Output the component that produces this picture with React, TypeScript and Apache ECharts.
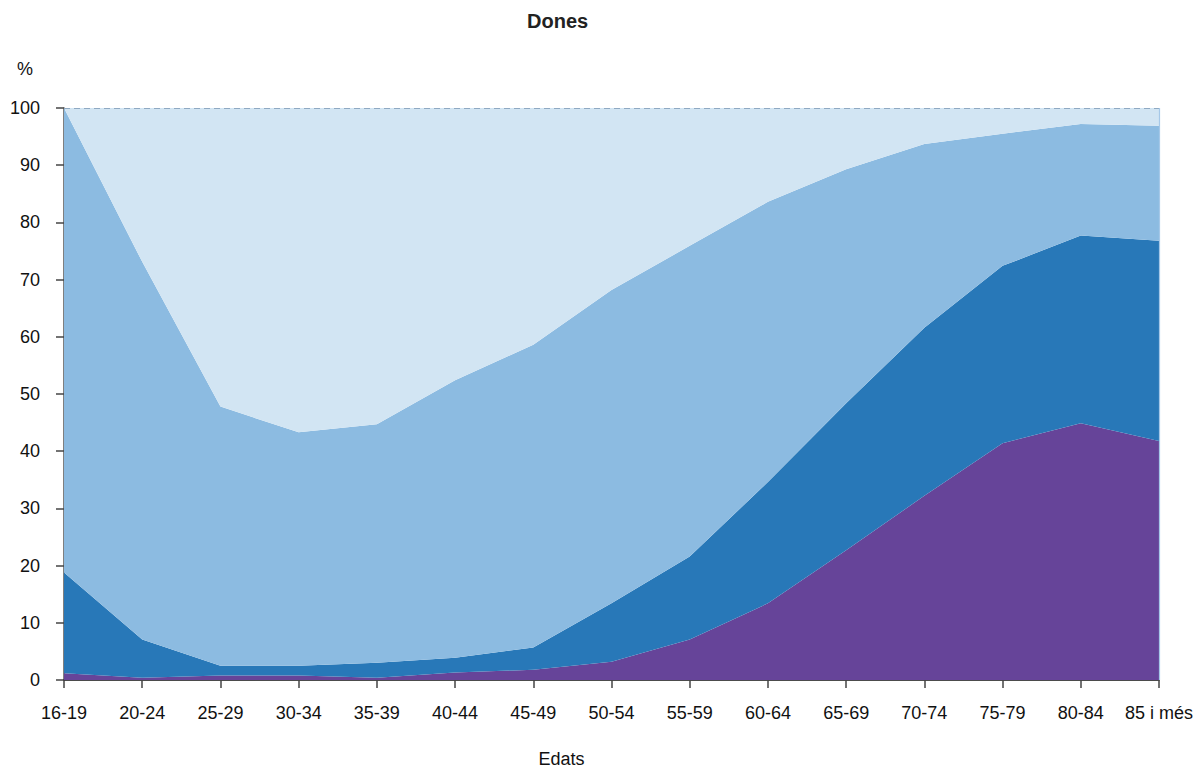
import React, { useEffect, useRef } from "react";
import * as echarts from "echarts";

const categories = ["16-19", "20-24", "25-29", "30-34", "35-39", "40-44", "45-49", "50-54", "55-59", "60-64", "65-69", "70-74", "75-79", "80-84", "85 i més"];
const yTicks = [0, 10, 20, 30, 40, 50, 60, 70, 80, 90, 100];

// stacked layers, bottom to top (%)
const layerPurple = [1.2, 0.4, 0.8, 0.8, 0.4, 1.3, 1.8, 3.2, 7.1, 13.4, 22.7, 32.2, 41.4, 44.9, 41.8];
const layerDark = [17.6, 6.7, 1.7, 1.7, 2.6, 2.6, 3.9, 10.2, 14.5, 21.2, 25.7, 29.4, 31.0, 32.8, 35.0];
const layerMid = [81.2, 66.0, 45.3, 40.8, 41.7, 48.5, 52.9, 54.8, 54.3, 49.0, 40.9, 32.1, 23.1, 19.5, 20.1];
const layerLight = [0, 26.9, 52.2, 56.7, 55.3, 47.6, 41.4, 31.8, 24.1, 16.4, 10.7, 6.3, 4.5, 2.8, 3.1];

const FONT = "'Liberation Sans', Arial, Helvetica, sans-serif";

export default function App() {
  const ref = useRef<HTMLDivElement>(null);
  useEffect(() => {
    if (!ref.current) return;
    const chart = echarts.init(ref.current, null, { renderer: "svg" });
    const mk = (name: string, data: number[], color: string, extra: any = {}) => ({
      name,
      type: "line",
      stack: "total",
      data,
      symbol: "none",
      lineStyle: { width: 0 },
      areaStyle: { color, opacity: 1 },
      itemStyle: { color },
      ...extra,
    });
    chart.setOption({
      animation: false,
      textStyle: { fontFamily: FONT },
      title: {
        text: "Dones",
        left: 522,
        top: 6,
        textStyle: { fontSize: 20, fontWeight: "bold", color: "#222", fontFamily: FONT },
      },
      grid: { left: 64, right: 38, top: 108, bottom: 90, containLabel: false, outerBoundsMode: "none" },
      xAxis: {
        type: "category",
        data: categories,
        boundaryGap: false,
        axisLine: { show: true, lineStyle: { color: "#111", width: 1.5 } },
        axisTick: { show: true, alignWithLabel: true, length: 8, lineStyle: { color: "#444", width: 1.5 } },
        axisLabel: { margin: 24, fontSize: 18, color: "#111", fontFamily: FONT, interval: 0 },
        splitLine: { show: false },
        name: "Edats",
        nameLocation: "middle",
        nameGap: 70,
        nameTextStyle: { fontSize: 18, color: "#111", fontFamily: FONT, padding: [0, 100, 0, 0] },
      },
      yAxis: {
        type: "value",
        min: 0,
        max: 100,
        interval: 10,
        axisLine: { show: true, lineStyle: { color: "#555", width: 1.5 } },
        axisTick: { show: true, length: 8, lineStyle: { color: "#444", width: 1.5 } },
        axisLabel: {
          margin: 24,
          fontSize: 18,
          color: "#111",
          fontFamily: FONT,
          formatter: (v: number) => (yTicks.includes(v) ? String(v) : ""),
        },
        splitLine: { show: false },
        name: "%",
        nameLocation: "end",
        nameGap: 30,
        nameTextStyle: { fontSize: 18, color: "#111", fontFamily: FONT, align: "right", padding: [0, 31, 0, 0] },
      },
      series: [
        mk("s1", layerPurple, "#664499"),
        mk("s2", layerDark, "#2878b8"),
        mk("s3", layerMid, "#8cbbe1"),
        mk("s4", layerLight, "#d2e5f3", {
          markLine: {
            silent: true,
            symbol: "none",
            label: { show: false },
            data: [
              { yAxis: 100, lineStyle: { type: [6, 4], color: "#8fa9c2", width: 1.2 } },
              { xAxis: "85 i més", lineStyle: { type: "solid", color: "#a6c8e8", width: 1.2 } },
            ],
          },
        }),
      ],
    });
    return () => chart.dispose();
  }, []);
  return (
    <div
      ref={ref}
      style={{ position: "fixed", left: 0, top: 0, width: 1197, height: 770, background: "#fff" }}
    />
  );
}
